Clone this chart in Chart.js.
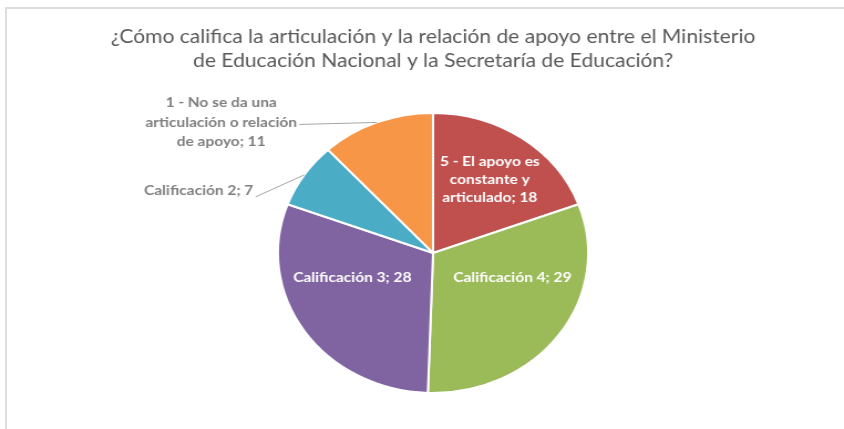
<!DOCTYPE html>
<html>
<head>
<meta charset="utf-8">
<script src="https://cdn.jsdelivr.net/npm/chart.js@4"></script>
<style>
  body { margin: 0; background: #fff; overflow: hidden; }
  #wrap { position: relative; width: 844px; height: 429px; }
  #marco { position: absolute; left: 5px; top: 7px; right: -5px; bottom: -5px;
           border-top: 2px solid #dedede; border-left: 2px solid #dedede; }
  #c { position: absolute; left: 0; top: 0; transform: scaleX(1.1076); transform-origin: 0 0; }
</style>
</head>
<body>
<div id="wrap">
  <div id="marco"></div>
  <canvas id="c" width="762" height="429"></canvas>
</div>
<script>
// datos de la encuesta
const titulo = ['¿Cómo califica la articulación y la relación de apoyo entre el Ministerio',
                'de Educación Nacional y la Secretaría de Educación?'];
const categorias = [
  ['5 - El apoyo es', 'constante y', 'articulado'],
  ['Calificación 4'],
  ['Calificación 3'],
  ['Calificación 2'],
  ['1 - No se da una', 'articulación o relación', 'de apoyo']
];
const valores = [18, 29, 28, 7, 11];
const colores = ['#c0504d', '#9bbb59', '#8064a2', '#4bacc6', '#f79646'];

// etiquetas de datos dibujadas sobre los arcos
const etiquetas = {
  id: 'etiquetas',
  afterDatasetsDraw(chart, args, opts) {
    const ctx = chart.ctx;
    const meta = chart.getDatasetMeta(0);
    ctx.save();
    meta.data.forEach((arc, i) => {
      const p = opts.pos[i];
      const lines = categorias[i].slice();
      lines[lines.length - 1] += '; ' + valores[i];
      const mid = (arc.startAngle + arc.endAngle) / 2;
      ctx.font = 'bold 14px Lato';
      ctx.textBaseline = 'middle';
      if (!p.out) {
        const a = mid + p.da * Math.PI / 180;
        const r = arc.outerRadius * p.r;
        const cx = arc.x + Math.cos(a) * r;
        const cy = arc.y + Math.sin(a) * r;
        const lh = 18;
        ctx.fillStyle = '#ffffff';
        ctx.textAlign = 'center';
        lines.forEach((t, k) => {
          ctx.fillText(t, cx, cy + (k - (lines.length - 1) / 2) * lh);
        });
      } else {
        const ex = arc.x + Math.cos(mid) * arc.outerRadius;
        const ey = arc.y + Math.sin(mid) * arc.outerRadius;
        const sx = ex + p.dx, sy = ey + p.dy;
        ctx.strokeStyle = '#a6a6a6';
        ctx.lineWidth = 1;
        ctx.beginPath();
        ctx.moveTo(sx, sy);
        ctx.lineTo(ex, ey);
        ctx.stroke();
        ctx.fillStyle = '#7f7f7f';
        const lh = 19.5;
        const w = Math.max(...lines.map(t => ctx.measureText(t).width));
        const cy = sy + p.ty;
        if (p.align === 'right') {
          ctx.textAlign = 'right';
          lines.forEach((t, k) => ctx.fillText(t, sx - 2, cy + (k - (lines.length - 1) / 2) * lh));
        } else {
          ctx.textAlign = 'center';
          lines.forEach((t, k) => ctx.fillText(t, sx - 2 - w / 2, cy + (k - (lines.length - 1) / 2) * lh));
        }
      }
    });
    ctx.restore();
  }
};

const ctx = document.getElementById('c').getContext('2d');
const grafico = new Chart(ctx, {
  type: 'pie',
  data: {
    labels: categorias,
    datasets: [{
      data: valores,
      backgroundColor: colores,
      borderColor: '#ffffff',
      borderWidth: 2
    }]
  },
  options: {
    responsive: false,
    animation: false,
    layout: { padding: { top: 0, bottom: 35, left: 20, right: 0 } },
    plugins: {
      legend: { display: false },
      tooltip: { enabled: false },
      title: {
        display: true,
        text: titulo,
        color: '#595959',
        font: { family: 'Lato', size: 19, weight: 'normal', lineHeight: 1.26 },
        padding: { top: 25, bottom: 39 }
      },
      etiquetas: {
        pos: [
          { r: 0.64, da: 0 },
          { r: 0.54, da: -17 },
          { r: 0.55, da: 15 },
          { out: true, dx: -44, dy: 22, ty: -6, align: 'right' },
          { out: true, dx: -70, dy: 2, ty: -2, align: 'center' }
        ]
      }
    }
  },
  plugins: [etiquetas]
});
</script>
</body>
</html>
